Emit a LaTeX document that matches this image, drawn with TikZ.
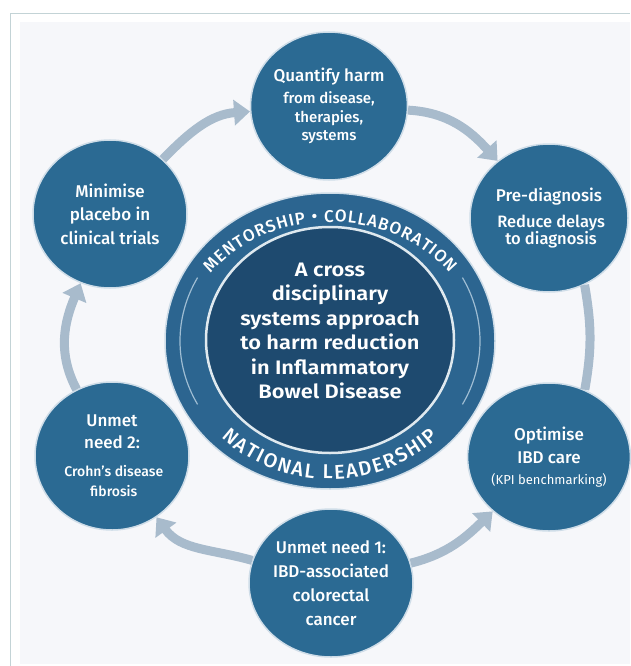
\documentclass[tikz,border=0pt]{standalone}
\usepackage{fontspec}
\setmainfont{Fira Sans}
\newfontfamily\medfont{Fira Sans Medium}
\newfontfamily\semifont{Fira Sans SemiBold}[FakeStretch=1.12]
\usetikzlibrary{shapes.geometric,arrows.meta,decorations.text}
\definecolor{discc}{HTML}{2B6A93}
\definecolor{discrim}{HTML}{CFDDE8}
\definecolor{hubdark}{HTML}{1E4A6F}
\definecolor{hubring}{HTML}{2C6590}
\definecolor{arcc}{HTML}{9FBDD3}
\definecolor{flowc}{HTML}{A8BBCC}
\definecolor{panel}{HTML}{F6F7FA}
\definecolor{framec}{HTML}{C3D3D6}
\newcommand{\subtxt}[1][15]{\medfont\fontsize{#1}{18.5}\selectfont}
\newcommand{\kpitxt}{\normalfont\fontsize{13}{15}\selectfont}
\newcommand{\toptxt}{\medfont\fontsize{17}{17}\selectfont}
\newcommand{\lowtxt}{\medfont\fontsize{20}{20}\selectfont}

\begin{document}
\begin{tikzpicture}[x=1pt,y=1pt,
  disc/.style={ellipse, fill=discc, draw=discrim, line width=1.5pt,
    minimum width=154pt, minimum height=148pt, inner sep=0pt,
    align=center, text=white, font=\medfont\fontsize{17}{24}\selectfont},
  flow/.style={draw=flowc, line width=9pt, -{Triangle[length=16pt,width=25pt]}},
  flowline/.style={draw=flowc, line width=9pt}]
\useasboundingbox (0,0) rectangle (630,-666);
% background and frame
\fill[white] (0,0) rectangle (630,-666);
\fill[panel] (20,-22) rectangle (630,-664);
\draw[framec, line width=1pt] (10.5,-666) |- (630,-13.5);

% centre hub
\node[ellipse, fill=hubring, draw=discrim, line width=1.5pt, minimum width=330pt, minimum height=296pt] (ring) at (330,-341) {};
\node[ellipse, fill=hubdark, draw=white!85!discc, line width=2.5pt, minimum width=248pt, minimum height=226pt] (hub) at (330,-340) {};
\node[align=center, text=white, font=\semifont\fontsize{19.5}{24.4}\selectfont] (aim) at (330,-331)
  {A cross\\ disciplinary\\ systems approach\\ to harm reduction\\ in Inflammatory\\ Bowel Disease};
\foreach \a in {152,-28}{
  \draw[arcc, line width=1.2pt] ([shift={(\a:150pt and 135pt)}]ring.center) arc[start angle=\a, end angle=\a+56, x radius=150pt, y radius=135pt];
}
\path[decorate, decoration={text effects along path, text={MENTORSHIP • COLLABORATION}, text align=center,
  text effects/.cd, text along path,
  characters={text=white, font=\toptxt, inner xsep=0.5pt},
  character widths={font=\toptxt, inner xsep=0.5pt}}]
  ([shift={(170:145pt and 119pt)}]ring.center) arc[start angle=170, end angle=10, x radius=145pt, y radius=119pt];
\path[decorate, decoration={text effects along path, text={NATIONAL LEADERSHIP}, text align=center,
  text effects/.cd, text along path,
  characters={text=white, font=\lowtxt, inner xsep=0.9pt},
  character widths={font=\lowtxt, inner xsep=0.9pt}}]
  ([shift={(195:152pt and 138pt)}]ring.center) arc[start angle=195, end angle=345, x radius=152pt, y radius=138pt];

% outer steps
\node[disc] (quant) at (329,-106) {Quantify harm\\[-2pt]\subtxt from disease,\\[-5.5pt] \subtxt therapies,\\[-5.5pt] \subtxt systems};
\node[disc] (prediag) at (549,-218) {Pre-diagnosis\\[2pt]\subtxt[16.5] Reduce delays\\[-6.5pt] \subtxt[16.5] to diagnosis};
\node[disc] (optim) at (549,-457) {Optimise\\[-1pt] IBD care\\[-3pt]\kpitxt (KPI benchmarking)};
\node[disc] (unmet1) at (331,-583) {Unmet need 1:\\ IBD-associated\\ colorectal\\ cancer};
\node[disc] (unmet2) at (112,-456) {Unmet\\[-2pt] need 2:\\[4pt]\subtxt[14] Crohn’s disease\\[-4pt] \subtxt[14] fibrosis};
\node[disc] (placebo) at (110,-214) {Minimise\\[-0.5pt] placebo in\\[-0.5pt] clinical trials};

% cycle arrows
\draw[flow] (placebo) to[out=46,in=184] (quant);
\draw[flow] (quant) to[out=-3,in=132] (prediag);
\draw[flowline] (prediag.-62) to[out=-80,in=80] (optim.62);
\draw[flow] (unmet1) to[out=14,in=224] (optim);
\draw[flow] (unmet1) to[out=164,in=306] (unmet2);
\draw[flow] (unmet2) to[out=118,in=247] (placebo);
\end{tikzpicture}
\end{document}
